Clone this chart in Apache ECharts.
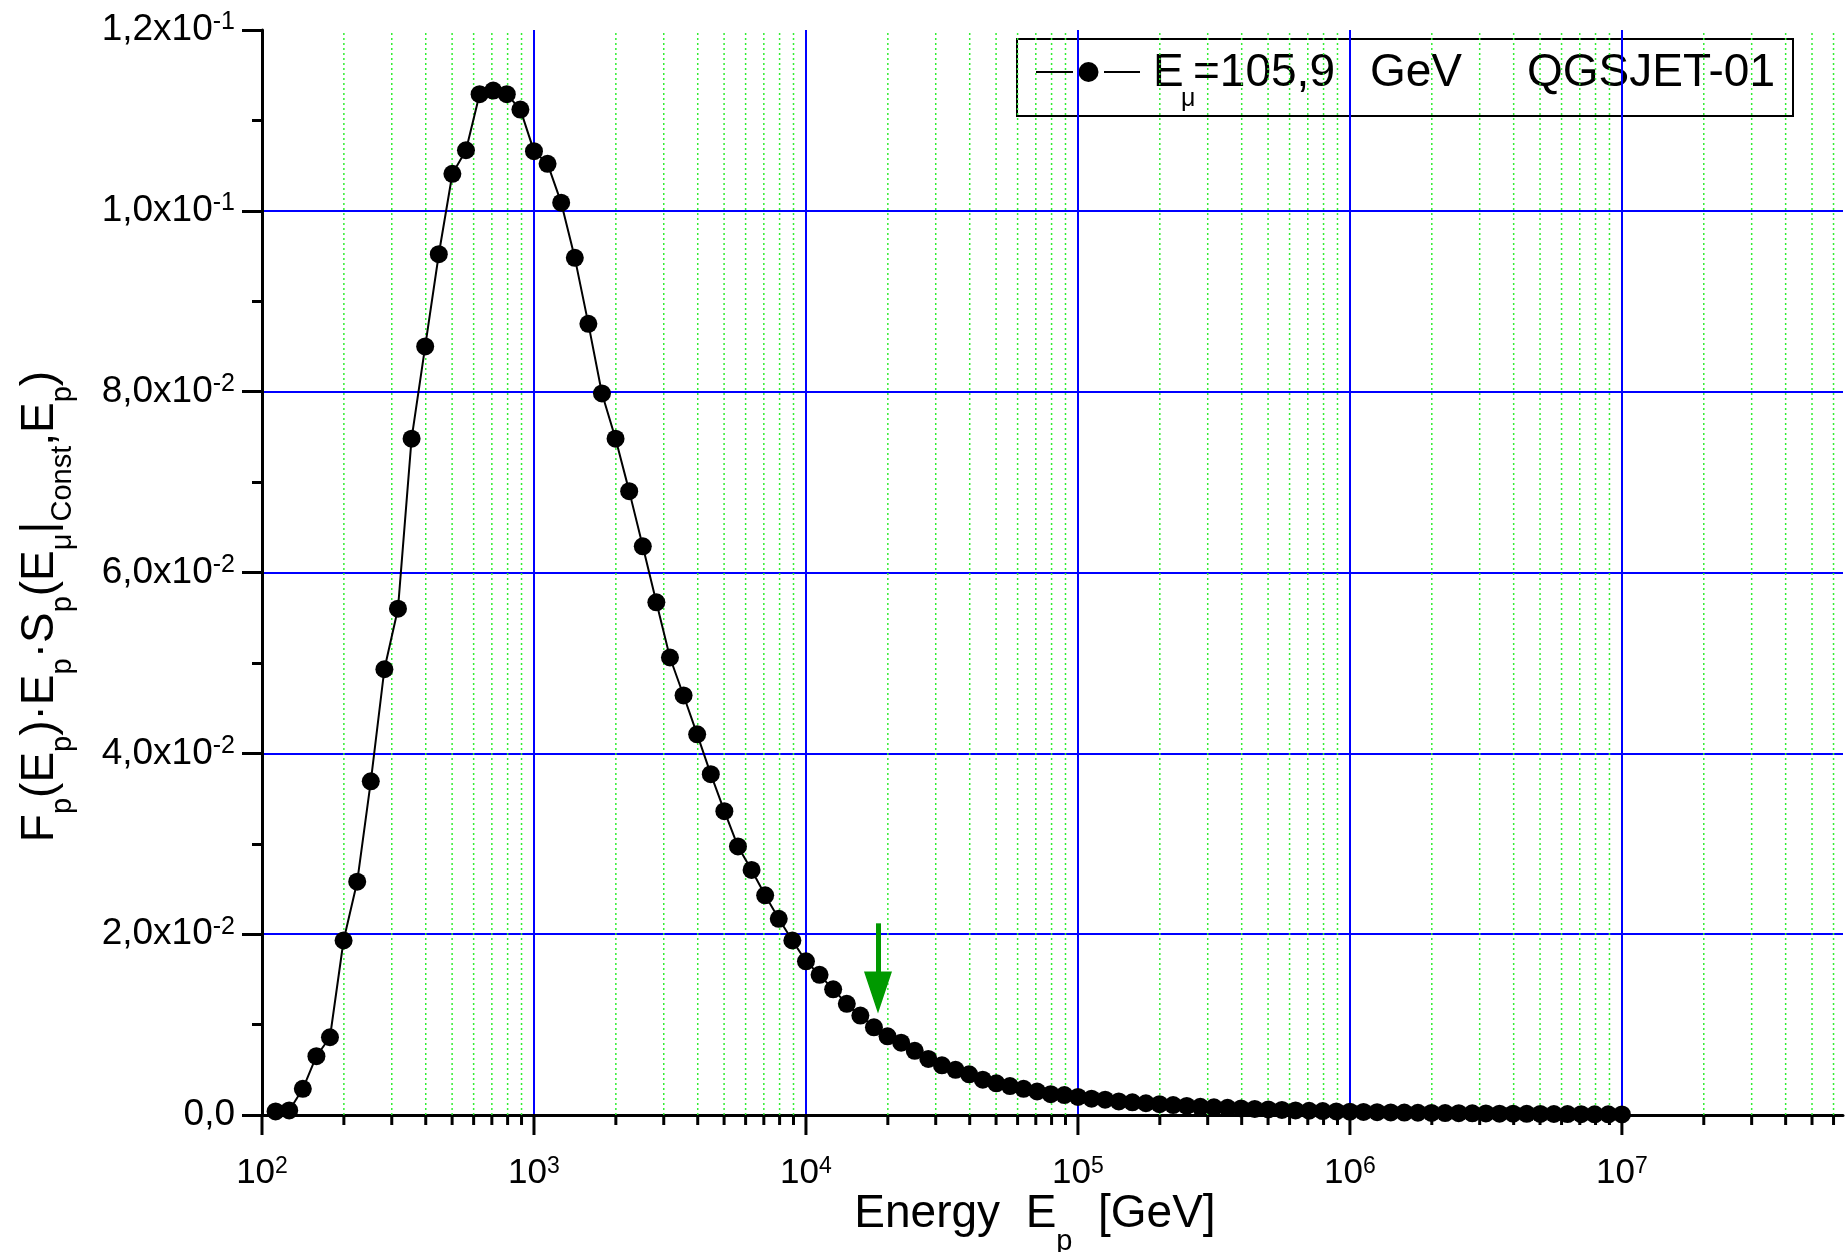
<!DOCTYPE html>
<html>
<head>
<meta charset="utf-8">
<title>F_p(E_p)·E_p·S_p — QGSJET-01</title>
<script src="https://cdn.jsdelivr.net/npm/echarts@6/dist/echarts.min.js"></script>
<style>
  html, body { margin: 0; padding: 0; background: #ffffff; }
  #chart { width: 1847px; height: 1252px; }
</style>
</head>
<body>
<div id="chart"></div>
<script>
// Proton energy grid E_p [GeV], 20 points per decade
const energyGeV = [
  112.2, 125.9, 141.3, 158.5, 177.8, 199.5, 223.9, 251.2, 281.8, 316.2,
  354.8, 398.1, 446.7, 501.2, 562.3, 631.0, 707.9, 794.3, 891.3, 1000,
  1122, 1259, 1413, 1585, 1778, 1995, 2239, 2512, 2818, 3162,
  3548, 3981, 4467, 5012, 5623, 6310, 7079, 7943, 8913, 10000,
  11220, 12590, 14130, 15850, 17780, 19950, 22390, 25120, 28180, 31620,
  35480, 39810, 44670, 50120, 56230, 63100, 70790, 79430, 89130, 100000,
  112200, 125900, 141300, 158500, 177800, 199500, 223900, 251200, 281800, 316200,
  354800, 398100, 446700, 501200, 562300, 631000, 707900, 794300, 891300, 1000000,
  1122000, 1259000, 1413000, 1585000, 1778000, 1995000, 2239000, 2512000, 2818000, 3162000,
  3548000, 3981000, 4467000, 5012000, 5623000, 6310000, 7079000, 7943000, 8913000, 10000000
];

// F_p(E_p)·E_p·S_p(E_mu|Const, E_p) at E_mu = 105.9 GeV
const response = [
  0.0004, 0.0005, 0.0029, 0.0065, 0.0086, 0.0193, 0.0258, 0.0369, 0.0493, 0.0560,
  0.0748, 0.0850, 0.0952, 0.1041, 0.1067, 0.1129, 0.1133, 0.1129, 0.1112, 0.1066,
  0.1052, 0.1009, 0.0948, 0.0875, 0.0798, 0.0748, 0.0690, 0.0629, 0.0567, 0.0506,
  0.0464, 0.0421, 0.0377, 0.0336, 0.0297, 0.0271, 0.0243, 0.0217, 0.0193, 0.0170,
  0.0155, 0.0139, 0.0123, 0.0110, 0.0097, 0.0087, 0.0080, 0.0071, 0.0062, 0.0055,
  0.0050, 0.0045, 0.0039, 0.0035, 0.0032, 0.0029, 0.0026, 0.0023, 0.0022, 0.0020,
  0.0018, 0.0017, 0.0015, 0.0014, 0.0013, 0.0012, 0.0011, 0.0010, 0.0009, 0.00085,
  0.0008, 0.00073, 0.00067, 0.00061, 0.00056, 0.00051, 0.00047, 0.00043, 0.0004, 0.00037,
  0.00034, 0.00031, 0.00029, 0.00027, 0.00025, 0.00023, 0.00021, 0.0002, 0.00018, 0.00017,
  0.00015, 0.00014, 0.00013, 0.00012, 0.00011, 0.0001, 0.00009, 0.00008, 0.00007, 0.00006
];

// Decade ticks and the 2..9 sub-decade ticks of the energy axis
const xMajorTicks = [1e2, 1e3, 1e4, 1e5, 1e6, 1e7];
const xMinorTicks = [
  200, 300, 400, 500, 600, 700, 800, 900,
  2000, 3000, 4000, 5000, 6000, 7000, 8000, 9000,
  20000, 30000, 40000, 50000, 60000, 70000, 80000, 90000,
  200000, 300000, 400000, 500000, 600000, 700000, 800000, 900000,
  2e6, 3e6, 4e6, 5e6, 6e6, 7e6, 8e6, 9e6,
  2e7, 3e7, 4e7, 5e7, 6e7
];

// Energy axis and value axis ranges
const xRange = [100, 6.5e7];
const yRange = [0, 0.12];
const yStep = 0.02;

// Green arrow: energy and its top / head-centre values
const arrowEnergy = 1.84e4;
const arrowSpan = [0.0212, 0.01355];

const FONT = "'Liberation Sans', Arial, Helvetica, sans-serif";

function yLabel(v) {
  if (Math.abs(v) < 1e-12) return '{m|0,0}';
  const e = Math.floor(Math.log10(v) + 1e-9);
  const m = (v / Math.pow(10, e)).toFixed(1).replace('.', ',');
  return '{m|' + m + 'x10}{s|' + e + '}';
}

function xLabel(v) {
  const e = Math.round(Math.log10(v));
  if (Math.abs(v - Math.pow(10, e)) / v > 1e-6) return '';
  return '{b|10}{s|' + e + '}';
}

const seriesData = energyGeV.map((e, i) => [e, response[i]]);
const tickData = xMajorTicks.map(v => [v, 1]).concat(xMinorTicks.map(v => [v, 0]));

const chart = echarts.init(document.getElementById('chart'), null, { renderer: 'canvas' });

chart.setOption({
  animation: false,
  backgroundColor: '#ffffff',
  textStyle: { fontFamily: FONT },
  grid: {
    left: 262, right: 4, top: 30, bottom: 137,
    containLabel: false,
    outerBoundsMode: 'none'
  },
  xAxis: {
    type: 'log',
    logBase: 10,
    min: xRange[0],
    max: xRange[1],
    splitNumber: 6,
    axisLine: { show: true, onZero: false, lineStyle: { color: '#000', width: 3 } },
    axisTick: { show: false },
    axisLabel: {
      show: true,
      margin: 40,
      showMaxLabel: false,
      formatter: xLabel,
      rich: {
        b: { fontFamily: FONT, fontSize: 35, lineHeight: 37, color: '#000' },
        s: { fontFamily: FONT, fontSize: 23, lineHeight: 22, verticalAlign: 'top', color: '#000' }
      }
    },
    splitLine: {
      show: true,
      showMinLine: false,
      showMaxLine: false,
      lineStyle: { color: '#0000ff', width: 2 }
    },
    name: '{t|Energy  E}{s|p}{t|  [GeV]}',
    nameLocation: 'middle',
    nameGap: 76,
    nameMoveOverlap: false,
    nameTextStyle: {
      color: '#000',
      fontFamily: FONT,
      fontSize: 46,
      padding: [0, 35, 0, 0],
      rich: {
        t: { fontFamily: FONT, fontSize: 46, lineHeight: 46, color: '#000' },
        s: { fontFamily: FONT, fontSize: 29, lineHeight: 29, padding: [56, 0, 0, 0], color: '#000' }
      }
    }
  },
  yAxis: {
    type: 'value',
    min: yRange[0],
    max: yRange[1],
    interval: yStep,
    axisLine: { show: true, lineStyle: { color: '#000', width: 3 } },
    axisTick: { show: true, inside: false, length: 20, lineStyle: { color: '#000', width: 3 } },
    minorTick: { show: true, splitNumber: 2, length: 10, lineStyle: { color: '#000', width: 3 } },
    axisLabel: {
      margin: 27,
      formatter: yLabel,
      rich: {
        m: { fontFamily: FONT, fontSize: 37, lineHeight: 40, color: '#000' },
        s: { fontFamily: FONT, fontSize: 25, lineHeight: 24, verticalAlign: 'top', color: '#000' }
      }
    },
    splitLine: {
      show: true,
      showMinLine: false,
      showMaxLine: false,
      lineStyle: { color: '#0000ff', width: 2 }
    },
    name: '{t|F}{s|p}{t|(E}{s|p}{t|)·E}{s|p}{t|·S}{s|p}{t|(E}{s|μ}{t||}{s|Const}{t|,E}{s|p}{t|)}',
    nameLocation: 'middle',
    nameRotate: 90,
    nameGap: 199,
    nameMoveOverlap: false,
    nameTextStyle: {
      color: '#000',
      fontFamily: FONT,
      fontSize: 46,
      padding: [0, 68, 0, 0],
      rich: {
        t: { fontFamily: FONT, fontSize: 46, lineHeight: 46, color: '#000' },
        s: { fontFamily: FONT, fontSize: 29, lineHeight: 29, padding: [46, 0, 0, 0], color: '#000' }
      }
    }
  },
  series: [
    {
      // sub-decade dotted grid lines and all energy-axis tick marks
      type: 'custom',
      name: 'ticks',
      coordinateSystem: 'cartesian2d',
      silent: true,
      clip: false,
      z: 1,
      data: tickData,
      encode: { x: 0, y: 1 },
      renderItem: function (params, api) {
        const v = api.value(0);
        const major = api.value(1) === 1;
        const p0 = api.coord([v, yRange[0]]);
        const p1 = api.coord([v, yRange[1]]);
        const children = [];
        if (!major) {
          children.push({
            type: 'line',
            shape: { x1: p0[0], y1: p0[1], x2: p1[0], y2: p1[1] },
            style: { stroke: '#33ee33', lineWidth: 1.5, lineDash: [2, 3] }
          });
        }
        children.push({
          type: 'line',
          z2: 50,
          shape: { x1: p0[0], y1: p0[1], x2: p0[0], y2: p0[1] + (major ? 20 : 10) },
          style: { stroke: '#000', lineWidth: 3 }
        });
        return { type: 'group', children: children };
      }
    },
    {
      type: 'line',
      name: 'E_mu = 105,9 GeV  QGSJET-01',
      data: seriesData,
      z: 5,
      symbol: 'circle',
      symbolSize: 18,
      showSymbol: true,
      itemStyle: { color: '#000' },
      lineStyle: { color: '#000', width: 2 },
      emphasis: { disabled: true },
      markLine: {
        silent: true,
        animation: false,
        symbol: ['none', 'triangle'],
        symbolSize: [28, 42],
        label: { show: false },
        lineStyle: { color: '#009900', width: 5, type: 'solid' },
        emphasis: { disabled: true },
        data: [[
          { coord: [arrowEnergy, arrowSpan[0]] },
          { coord: [arrowEnergy, arrowSpan[1]] }
        ]]
      }
    }
  ],
  graphic: [
    {
      type: 'group',
      z: 100,
      children: [
        { type: 'rect', shape: { x: 1017, y: 39, width: 776, height: 77 },
          style: { fill: '#fff', stroke: '#000', lineWidth: 2 } },
        { type: 'line', shape: { x1: 1036, y1: 72, x2: 1073, y2: 72 },
          style: { stroke: '#000', lineWidth: 2 } },
        { type: 'line', shape: { x1: 1104, y1: 72, x2: 1140, y2: 72 },
          style: { stroke: '#000', lineWidth: 2 } },
        { type: 'circle', shape: { cx: 1088.5, cy: 72, r: 10 }, style: { fill: '#000' } },
        { type: 'text', x: 1153, y: 73,
          style: { text: 'E', fontFamily: FONT, fontSize: 46, fill: '#000', align: 'left', verticalAlign: 'middle' } },
        { type: 'text', x: 1181, y: 99,
          style: { text: 'μ', fontFamily: FONT, fontSize: 25, fill: '#000', align: 'left', verticalAlign: 'middle' } },
        { type: 'text', x: 1193, y: 73,
          style: { text: '=105,9', fontFamily: FONT, fontSize: 46, fill: '#000', align: 'left', verticalAlign: 'middle' } },
        { type: 'text', x: 1370, y: 73,
          style: { text: 'GeV', fontFamily: FONT, fontSize: 46, fill: '#000', align: 'left', verticalAlign: 'middle' } },
        { type: 'text', x: 1527, y: 73,
          style: { text: 'QGSJET-01', fontFamily: FONT, fontSize: 46, fill: '#000', align: 'left', verticalAlign: 'middle' } }
      ]
    }
  ]
});
</script>
</body>
</html>
